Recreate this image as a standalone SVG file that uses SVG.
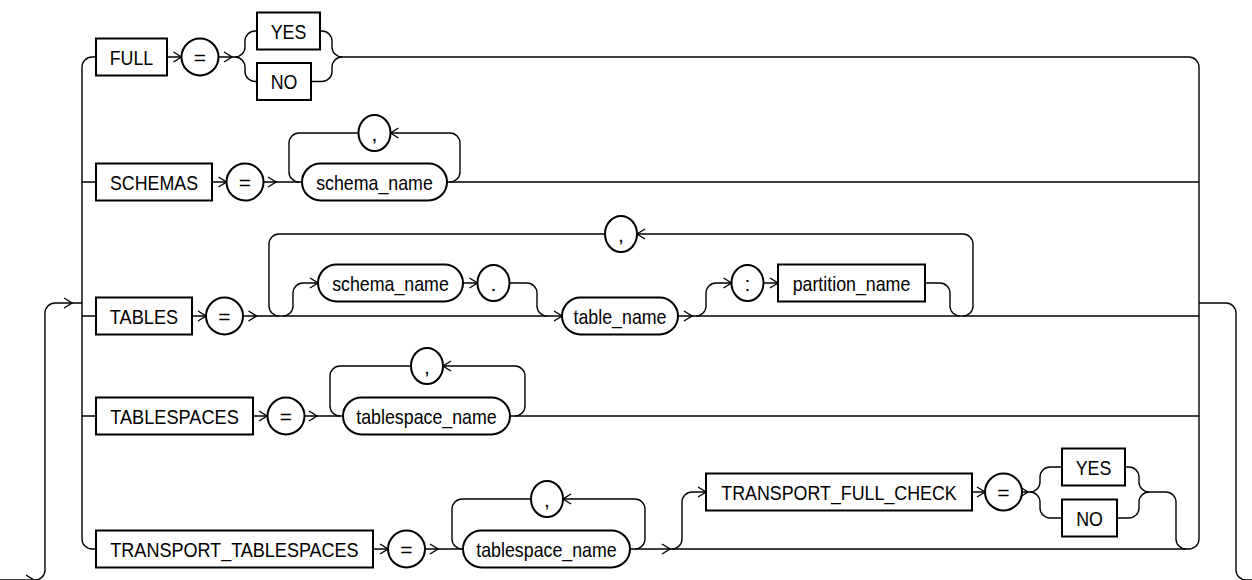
<svg xmlns="http://www.w3.org/2000/svg" xmlns:xlink="http://www.w3.org/1999/xlink" width="1252" height="580" viewBox="0 0 1252 580">
<style>
.ln{fill:none;stroke:#000;stroke-width:1.4}
.ah{fill:none;stroke:#000;stroke-width:1.4}
.bx{fill:#fff;stroke:#000;stroke-width:2}
.ov{fill:#fff;stroke:#000;stroke-width:2}
text{font-family:"Liberation Sans Narrow","Liberation Sans",Arial,sans-serif;font-size:21px;text-anchor:middle;fill:#000}
</style>
<defs>
<path id="ar" class="ah" d="M-8,-5 L0,0 L-8,5"/>
<path id="al" class="ah" d="M8,-5 L0,0 L8,5"/>
</defs>
<rect width="1252" height="580" fill="#fff"/>
<g id="connectors">
<!-- outer loop -->
<path class="ln" d="M0,580 H35 A10,10 0 0 0 45,570 V313 A10,10 0 0 1 55,303 H82"/>
<path class="ln" d="M1199,303 H1226 A10,10 0 0 1 1236,313 V570 A10,10 0 0 0 1246,580 H1252"/>
<!-- main verticals -->
<path class="ln" d="M96,57 H92 A10,10 0 0 0 82,67 V539 A10,10 0 0 0 92,549 H96"/>
<path class="ln" d="M82,182 H96 M82,316 H96 M82,416 H96"/>
<path class="ln" d="M1189,57 A10,10 0 0 1 1199,67 V539 A10,10 0 0 1 1189,549"/>
<!-- row 1 -->
<path class="ln" d="M167,57 H235 M342,57 H1189"/>
<path class="ln" d="M235,57 A10,10 0 0 0 245,47 V41 A10,10 0 0 1 255,31 H257"/>
<path class="ln" d="M235,57 A10,10 0 0 1 245,67 V71.5 A10,10 0 0 0 255,81.5 H257"/>
<path class="ln" d="M320,31 H322 A10,10 0 0 1 332,41 V47 A10,10 0 0 0 342,57"/>
<path class="ln" d="M311,81.5 H322 A10,10 0 0 0 332,71.5 V67 A10,10 0 0 1 342,57"/>
<!-- row 2 -->
<path class="ln" d="M212,182 H302 M447,182 H1199"/>
<path class="ln" d="M450,182 A10,10 0 0 0 460,172 V143 A10,10 0 0 0 450,133 H390.5"/>
<path class="ln" d="M358.5,133 H299 A10,10 0 0 0 289,143 V172 A10,10 0 0 0 299,182"/>
<!-- row 3 -->
<path class="ln" d="M192,316 H1199"/>
<path class="ln" d="M963,316 A10,10 0 0 0 973,306 V244 A10,10 0 0 0 963,234 H637"/>
<path class="ln" d="M605,234 H279 A10,10 0 0 0 269,244 V306 A10,10 0 0 0 279,316"/>
<path class="ln" d="M283,316 A10,10 0 0 0 293,306 V293 A10,10 0 0 1 303,283 H318"/>
<path class="ln" d="M463,283 H477.5 M509.5,283 H527 A10,10 0 0 1 537,293 V306 A10,10 0 0 0 547,316"/>
<path class="ln" d="M696,316 A10,10 0 0 0 706,306 V293 A10,10 0 0 1 716,283 H731.5 M763.5,283 H778"/>
<path class="ln" d="M925,283 H940 A10,10 0 0 1 950,293 V306 A10,10 0 0 0 960,316"/>
<!-- row 4 -->
<path class="ln" d="M253,416 H1199"/>
<path class="ln" d="M515,416 A10,10 0 0 0 525,406 V376 A10,10 0 0 0 515,366 H443"/>
<path class="ln" d="M411,366 H340 A10,10 0 0 0 330,376 V406 A10,10 0 0 0 340,416"/>
<!-- row 5 -->
<path class="ln" d="M373,549 H1189"/>
<path class="ln" d="M635,549 A10,10 0 0 0 645,539 V509 A10,10 0 0 0 635,499 H563"/>
<path class="ln" d="M531,499 H462 A10,10 0 0 0 452,509 V539 A10,10 0 0 0 462,549"/>
<path class="ln" d="M672,549 A10,10 0 0 0 682,539 V502 A10,10 0 0 1 692,492 H706"/>
<path class="ln" d="M972,492 H1030"/>
<path class="ln" d="M1030,492 A10,10 0 0 0 1040,482 V477 A10,10 0 0 1 1050,467 H1062"/>
<path class="ln" d="M1030,492 A10,10 0 0 1 1040,502 V508 A10,10 0 0 0 1050,518 H1062"/>
<path class="ln" d="M1125,467 H1129 A10,10 0 0 1 1139,477 V482 A10,10 0 0 0 1149,492"/>
<path class="ln" d="M1117,518 H1129 A10,10 0 0 0 1139,508 V502 A10,10 0 0 1 1149,492"/>
<path class="ln" d="M1149,492 H1166 A10,10 0 0 1 1176,502 V539 A10,10 0 0 0 1186,549"/>
<!-- arrowheads -->
<use xlink:href="#ar" x="72" y="303"/>
<use xlink:href="#ar" x="34" y="580"/>
<use xlink:href="#ar" x="181.5" y="57"/>
<use xlink:href="#ar" x="232" y="57"/>
<use xlink:href="#ar" x="226.5" y="182"/>
<use xlink:href="#ar" x="276" y="182"/>
<use xlink:href="#al" x="390.5" y="133"/>
<use xlink:href="#ar" x="206" y="316"/>
<use xlink:href="#ar" x="256.5" y="316"/>
<use xlink:href="#ar" x="318" y="283"/>
<use xlink:href="#ar" x="477.5" y="283"/>
<use xlink:href="#ar" x="562" y="316"/>
<use xlink:href="#ar" x="692" y="316"/>
<use xlink:href="#ar" x="731.5" y="283"/>
<use xlink:href="#ar" x="778" y="283"/>
<use xlink:href="#al" x="637" y="234"/>
<use xlink:href="#ar" x="267" y="416"/>
<use xlink:href="#ar" x="317" y="416"/>
<use xlink:href="#al" x="443" y="366"/>
<use xlink:href="#ar" x="388" y="549"/>
<use xlink:href="#ar" x="438" y="549"/>
<use xlink:href="#al" x="563" y="499"/>
<use xlink:href="#ar" x="670" y="549"/>
<use xlink:href="#ar" x="706" y="492"/>
<use xlink:href="#ar" x="985" y="492"/>
<use xlink:href="#ar" x="1028" y="492"/>
</g>
<!-- row 1 -->
<g id="n-full"><rect class="bx" x="96" y="38.5" width="71" height="37"/><text x="131.5" y="64.5" textLength="43.5" lengthAdjust="spacingAndGlyphs">FULL</text></g>
<g id="n-eq1"><circle class="ov" cx="200" cy="57" r="18.5"/><text x="200" y="64.5">=</text></g>
<g id="n-yes1"><rect class="bx" x="257" y="12.5" width="63" height="37"/><text x="288.5" y="38.5" textLength="35.6" lengthAdjust="spacingAndGlyphs">YES</text></g>
<g id="n-no1"><rect class="bx" x="257" y="63" width="54" height="37"/><text x="284" y="89" textLength="26.7" lengthAdjust="spacingAndGlyphs">NO</text></g>
<!-- row 2 -->
<g id="n-schemas"><rect class="bx" x="96" y="163.5" width="116" height="37"/><text x="154" y="189.5" textLength="88" lengthAdjust="spacingAndGlyphs">SCHEMAS</text></g>
<g id="n-eq2"><circle class="ov" cx="245" cy="182" r="18.5"/><text x="245" y="189.5">=</text></g>
<g id="n-comma2"><ellipse class="ov" cx="374.5" cy="133" rx="16" ry="18"/><text x="374.5" y="140.5">,</text></g>
<g id="n-schema-name1"><rect class="ov" x="302" y="163.5" width="145" height="37" rx="18.5"/><text x="374.5" y="189.5" textLength="116.7" lengthAdjust="spacingAndGlyphs">schema_name</text></g>
<!-- row 3 -->
<g id="n-tables"><rect class="bx" x="96" y="297.5" width="96" height="37"/><text x="144" y="323.5" textLength="68.3" lengthAdjust="spacingAndGlyphs">TABLES</text></g>
<g id="n-eq3"><circle class="ov" cx="224.5" cy="316" r="18.5"/><text x="224.5" y="323.5">=</text></g>
<g id="n-comma3"><ellipse class="ov" cx="621" cy="234" rx="16" ry="18"/><text x="621" y="241.5">,</text></g>
<g id="n-schema-name2"><rect class="ov" x="318" y="264.5" width="145" height="37" rx="18.5"/><text x="390.5" y="290.5" textLength="116.7" lengthAdjust="spacingAndGlyphs">schema_name</text></g>
<g id="n-dot"><ellipse class="ov" cx="493.5" cy="283" rx="16" ry="18"/><text x="493.5" y="290.5">.</text></g>
<g id="n-table-name"><rect class="ov" x="562" y="297.5" width="116" height="37" rx="18.5"/><text x="620" y="323.5" textLength="93" lengthAdjust="spacingAndGlyphs">table_name</text></g>
<g id="n-colon"><ellipse class="ov" cx="747.5" cy="283" rx="16" ry="18"/><text x="747.5" y="290.5">:</text></g>
<g id="n-partition-name"><rect class="bx" x="778" y="264.5" width="147" height="37"/><text x="851.5" y="290.5" textLength="117.7" lengthAdjust="spacingAndGlyphs">partition_name</text></g>
<!-- row 4 -->
<g id="n-tablespaces"><rect class="bx" x="96" y="397.5" width="157" height="37"/><text x="174.5" y="423.5" textLength="128.6" lengthAdjust="spacingAndGlyphs">TABLESPACES</text></g>
<g id="n-eq4"><circle class="ov" cx="286" cy="416" r="18.5"/><text x="286" y="423.5">=</text></g>
<g id="n-comma4"><ellipse class="ov" cx="427" cy="366" rx="16" ry="18"/><text x="427" y="373.5">,</text></g>
<g id="n-tablespace-name1"><rect class="ov" x="343" y="397.5" width="167" height="37" rx="18.5"/><text x="426.5" y="423.5" textLength="140.5" lengthAdjust="spacingAndGlyphs">tablespace_name</text></g>
<!-- row 5 -->
<g id="n-transport-tablespaces"><rect class="bx" x="96" y="530.5" width="277" height="37"/><text x="234.5" y="556.5" textLength="248.3" lengthAdjust="spacingAndGlyphs">TRANSPORT_TABLESPACES</text></g>
<g id="n-eq5"><circle class="ov" cx="406.5" cy="549" r="18.5"/><text x="406.5" y="556.5">=</text></g>
<g id="n-comma5"><ellipse class="ov" cx="547" cy="499" rx="16" ry="18"/><text x="547" y="506.5">,</text></g>
<g id="n-tablespace-name2"><rect class="ov" x="463" y="530.5" width="167" height="37" rx="18.5"/><text x="546.5" y="556.5" textLength="140.5" lengthAdjust="spacingAndGlyphs">tablespace_name</text></g>
<g id="n-transport-full-check"><rect class="bx" x="706" y="473.5" width="266" height="37"/><text x="839" y="499.5" textLength="235.4" lengthAdjust="spacingAndGlyphs">TRANSPORT_FULL_CHECK</text></g>
<g id="n-eq6"><circle class="ov" cx="1003.5" cy="492" r="18.5"/><text x="1003.5" y="499.5">=</text></g>
<g id="n-yes2"><rect class="bx" x="1062" y="448.5" width="63" height="37"/><text x="1093.5" y="474.5" textLength="35.6" lengthAdjust="spacingAndGlyphs">YES</text></g>
<g id="n-no2"><rect class="bx" x="1062" y="499.5" width="55" height="37"/><text x="1089.5" y="525.5" textLength="26.7" lengthAdjust="spacingAndGlyphs">NO</text></g>
</svg>
